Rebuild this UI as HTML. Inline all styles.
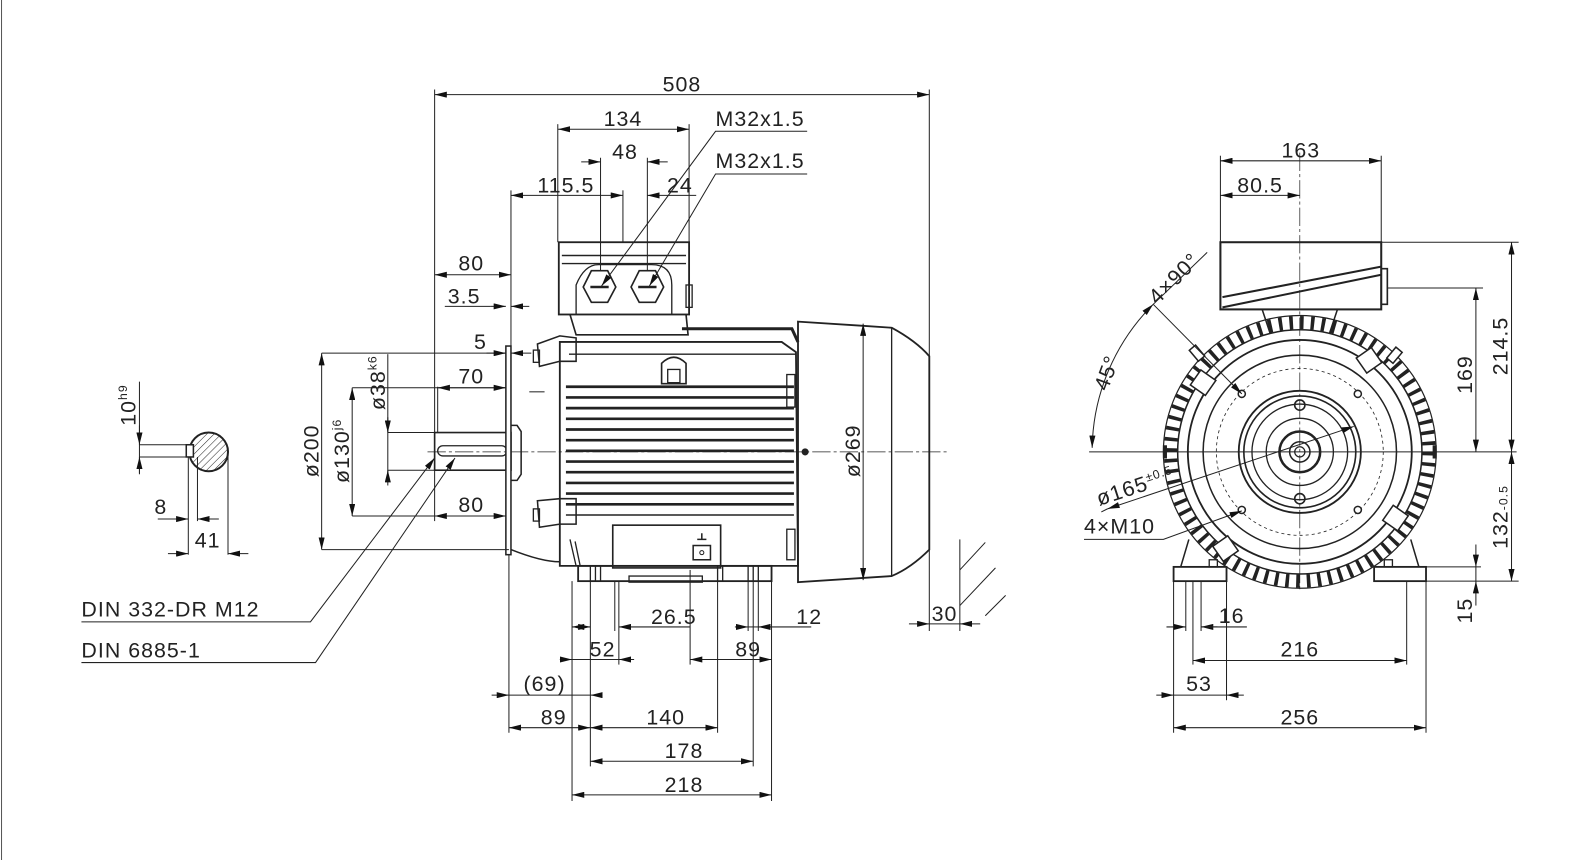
<!DOCTYPE html>
<html><head><meta charset="utf-8">
<style>
html,body{margin:0;padding:0;background:#fff;}
svg{display:block;}
text{font-family:"Liberation Sans",sans-serif;font-size:21px;fill:#222;letter-spacing:1px;}
.m{text-anchor:middle;}
</style></head>
<body>
<svg width="1596" height="860" viewBox="0 0 1568 845" preserveAspectRatio="none" xmlns="http://www.w3.org/2000/svg">
<defs>
<marker id="a" viewBox="0 0 12 6" refX="12" refY="3" markerWidth="12" markerHeight="6" orient="auto-start-reverse" markerUnits="userSpaceOnUse">
<path d="M0,0 L12,3 L0,6z" fill="#111"/></marker>
<pattern id="h" width="5" height="5" patternUnits="userSpaceOnUse" patternTransform="rotate(45)">
<line x1="0" y1="0" x2="0" y2="5" stroke="#222" stroke-width="1"/></pattern>
</defs>
<rect width="1568" height="845" fill="#fff"/>
<line x1="1.5" y1="0" x2="1.5" y2="845" stroke="#555" stroke-width="1"/>

<g stroke="#222" stroke-width="1" fill="none">
<!-- SECTION -->
<circle cx="205" cy="444" r="19" fill="url(#h)" stroke-width="2"/>
<rect x="183" y="437" width="7" height="12" fill="#fff" stroke-width="1.5"/>
<line x1="137" y1="375" x2="137" y2="465"/>
<line x1="137" y1="418" x2="137" y2="437" marker-end="url(#a)"/>
<line x1="137" y1="466" x2="137" y2="449" marker-end="url(#a)"/>
<line x1="137" y1="437" x2="190" y2="437"/>
<line x1="137" y1="449" x2="190" y2="449"/>
<line x1="185" y1="449" x2="185" y2="545"/>
<line x1="194" y1="449" x2="194" y2="512"/>
<line x1="224" y1="444" x2="224" y2="545"/>
<line x1="155" y1="510" x2="185" y2="510" marker-end="url(#a)"/>
<line x1="215" y1="510" x2="194" y2="510" marker-end="url(#a)"/>
<line x1="165" y1="544" x2="185" y2="544" marker-end="url(#a)"/>
<line x1="244" y1="544" x2="224" y2="544" marker-end="url(#a)"/>

<!-- SIDE VIEW -->
<line x1="420" y1="444" x2="930" y2="444" stroke-dasharray="18,3,3,3" stroke-width="0.7"/>
<rect x="427" y="425" width="75" height="37" stroke-width="1.6"/>
<rect x="430" y="438" width="68" height="10" rx="5" stroke-width="1.3"/>
<rect x="497" y="340" width="5" height="205" fill="#fff" stroke-width="1.5"/>
<path d="M502 418 l6 0 l4 6 v42 l-4 6 h-6" stroke-width="1.5"/>
<path d="M502 540 q30 12 48 12" stroke-width="1.5"/>
<path d="M528 338 L550 330 L566 332 L566 355 L550 355 L530 360 Z" stroke-width="1.5"/>
<rect x="524" y="344" width="6" height="12" stroke-width="1.3"/>
<path d="M528 492 L550 490 L566 490 L566 515 L550 515 L530 518 Z" stroke-width="1.5"/>
<rect x="524" y="500" width="6" height="12" stroke-width="1.3"/>
<path d="M550 336 L768 336 L782 346 L784 556 L550 556 Z" stroke-width="1.8"/>
<line x1="559" y1="348" x2="782" y2="348" stroke-width="1.3"/>
<path d="M670 323 L778 323 L784 336" stroke-width="3"/>
<g stroke-width="2.6">
<line x1="556" y1="380" x2="780" y2="380"/><line x1="556" y1="390.5" x2="780" y2="390.5"/>
<line x1="556" y1="401" x2="780" y2="401"/><line x1="556" y1="411.5" x2="780" y2="411.5"/>
<line x1="556" y1="422" x2="780" y2="422"/><line x1="556" y1="432.5" x2="780" y2="432.5"/>
<line x1="556" y1="443" x2="780" y2="443"/><line x1="556" y1="453.5" x2="780" y2="453.5"/>
<line x1="556" y1="464" x2="780" y2="464"/><line x1="556" y1="474.5" x2="780" y2="474.5"/>
<line x1="556" y1="485" x2="780" y2="485"/><line x1="556" y1="495.5" x2="780" y2="495.5"/>
</g>
<line x1="556" y1="506" x2="780" y2="506" stroke-width="1.5"/>
<path d="M650 377 V357 q12 -12 24 0 V377 Z" stroke-width="1.6"/>
<rect x="656" y="363" width="12" height="13" stroke-width="1.3"/>
<rect x="773" y="368" width="8" height="32" stroke-width="1.3"/>
<rect x="773" y="520" width="8" height="30" stroke-width="1.3"/>
<rect x="602" y="516" width="106" height="42" stroke-width="1.6"/>
<rect x="681" y="536" width="17" height="14" stroke-width="1.5"/>
<circle cx="689.5" cy="543" r="2"/>
<path d="M685 530 h9 M689.5 524 v6" stroke-width="1.5"/>
<path d="M560 530 L566 556 M565 532 L570 556" stroke-width="1.3"/>
<rect x="568" y="556" width="190" height="15" stroke-width="1.8"/>
<rect x="618" y="566" width="72" height="6" stroke-width="1.3"/>
<g stroke-width="1.3"><line x1="580" y1="556" x2="580" y2="571"/><line x1="585" y1="556" x2="585" y2="571"/><line x1="590" y1="556" x2="590" y2="571"/>
<line x1="705" y1="556" x2="705" y2="571"/><line x1="710" y1="556" x2="710" y2="571"/><line x1="735" y1="556" x2="735" y2="571"/><line x1="740" y1="556" x2="740" y2="571"/><line x1="745" y1="556" x2="745" y2="571"/></g>
<rect x="549" y="238" width="128" height="71" stroke-width="1.8"/>
<line x1="552" y1="251" x2="674" y2="251" stroke-width="1.5"/>
<line x1="552" y1="259" x2="674" y2="259" stroke-width="1.3"/>
<path d="M560 309 L566 329 L676 329 L674 309" stroke-width="1.6"/>
<path d="M566 309 V280 q8 -20 22 -20 h52 q20 0 20 20 V309" stroke-width="1.3"/>
<rect x="674" y="280" width="6" height="22" stroke-width="1.3"/>
<polygon points="581,266 597,266 605,282 597,297 581,297 573,282" stroke-width="1.6"/>
<polygon points="628,266 644,266 652,282 644,297 628,297 620,282" stroke-width="1.6"/>
<line x1="580" y1="282" x2="598" y2="282" stroke-width="2.5"/>
<line x1="627" y1="282" x2="645" y2="282" stroke-width="2.5"/>
<path d="M784 316 L846 320 L876 322 Q900 335 913 350 L913 540 Q895 558 876 566 L846 568 L784 572 Z" stroke-width="1.8"/>
<line x1="876" y1="322" x2="876" y2="566" stroke-width="1.3"/>
<circle cx="791" cy="444" r="3" fill="#222"/>

<!-- SIDE VIEW DIMENSIONS -->
<line x1="427" y1="88" x2="427" y2="425"/>
<line x1="913" y1="88" x2="913" y2="620"/>
<line x1="427" y1="93" x2="913" y2="93" marker-start="url(#a)" marker-end="url(#a)"/>
<line x1="548" y1="122" x2="548" y2="238"/>
<line x1="677" y1="122" x2="677" y2="238"/>
<line x1="548" y1="127" x2="677" y2="127" marker-start="url(#a)" marker-end="url(#a)"/>
<line x1="590" y1="155" x2="590" y2="266"/>
<line x1="636" y1="155" x2="636" y2="266"/>
<line x1="571" y1="159" x2="590" y2="159" marker-end="url(#a)"/>
<line x1="656" y1="159" x2="636" y2="159" marker-end="url(#a)"/>
<line x1="502" y1="187" x2="502" y2="340"/>
<line x1="612" y1="187" x2="612" y2="238"/>
<line x1="502" y1="192" x2="612" y2="192" marker-start="url(#a)" marker-end="url(#a)"/>
<line x1="684" y1="192" x2="636" y2="192" marker-end="url(#a)"/>
<path d="M793 129 H703 L591 281" marker-end="url(#a)"/>
<path d="M793 171 H703 L638 281" marker-end="url(#a)"/>
<line x1="427" y1="270" x2="502" y2="270" marker-start="url(#a)" marker-end="url(#a)"/>
<line x1="482" y1="301" x2="497" y2="301" marker-end="url(#a)"/>
<line x1="520" y1="301" x2="502" y2="301" marker-end="url(#a)"/>
<line x1="437" y1="301" x2="482" y2="301"/>
<line x1="316" y1="347" x2="497" y2="347"/>
<line x1="478" y1="347" x2="497" y2="347" marker-end="url(#a)"/>
<line x1="522" y1="347" x2="502" y2="347" marker-end="url(#a)"/>
<line x1="346" y1="381" x2="497" y2="381"/>
<line x1="430" y1="380" x2="430" y2="425"/>
<line x1="430" y1="381" x2="497" y2="381" marker-start="url(#a)" marker-end="url(#a)"/>
<line x1="346" y1="507" x2="497" y2="507"/>
<line x1="427" y1="462" x2="427" y2="512"/>
<line x1="427" y1="507" x2="497" y2="507" marker-start="url(#a)" marker-end="url(#a)"/>
<line x1="316" y1="540" x2="500" y2="540"/>
<line x1="316" y1="347" x2="316" y2="540" marker-start="url(#a)" marker-end="url(#a)"/>
<line x1="346" y1="381" x2="346" y2="507" marker-start="url(#a)" marker-end="url(#a)"/>
<line x1="381" y1="348" x2="381" y2="470"/>
<line x1="381" y1="410" x2="381" y2="425" marker-end="url(#a)"/>
<line x1="381" y1="477" x2="381" y2="462" marker-end="url(#a)"/>
<line x1="381" y1="425" x2="427" y2="425"/>
<line x1="381" y1="462" x2="427" y2="462"/>
<line x1="520" y1="385" x2="535" y2="385"/>
<line x1="848" y1="318" x2="848" y2="570" marker-start="url(#a)" marker-end="url(#a)"/>
<path d="M80 611 H305 L427 450" marker-end="url(#a)"/>
<path d="M80 651 H310 L447 450" marker-end="url(#a)"/>
<line x1="500" y1="545" x2="500" y2="720"/>
<line x1="562" y1="571" x2="562" y2="787"/>
<line x1="580" y1="571" x2="580" y2="753"/>
<line x1="604" y1="571" x2="604" y2="620"/>
<line x1="608" y1="571" x2="608" y2="653"/>
<line x1="678" y1="560" x2="678" y2="653"/>
<line x1="705" y1="571" x2="705" y2="720"/>
<line x1="735" y1="571" x2="735" y2="620"/>
<line x1="740" y1="571" x2="740" y2="753"/>
<line x1="745" y1="571" x2="745" y2="620"/>
<line x1="758" y1="571" x2="758" y2="787"/>
<line x1="562" y1="616" x2="580" y2="616" marker-start="url(#a)" marker-end="url(#a)"/>
<line x1="678" y1="616" x2="608" y2="616" marker-end="url(#a)"/>
<line x1="735" y1="616" x2="745" y2="616"/>
<line x1="722" y1="616" x2="735" y2="616" marker-end="url(#a)"/>
<line x1="797" y1="616" x2="745" y2="616" marker-end="url(#a)"/>
<line x1="550" y1="648" x2="562" y2="648" marker-end="url(#a)"/>
<line x1="623" y1="648" x2="608" y2="648" marker-end="url(#a)"/>
<line x1="562" y1="648" x2="608" y2="648"/>
<line x1="678" y1="648" x2="758" y2="648" marker-start="url(#a)" marker-end="url(#a)"/>
<line x1="483" y1="683" x2="500" y2="683" marker-end="url(#a)"/>
<line x1="590" y1="683" x2="580" y2="683" marker-end="url(#a)"/>
<line x1="500" y1="683" x2="580" y2="683"/>
<line x1="500" y1="715" x2="580" y2="715" marker-start="url(#a)" marker-end="url(#a)"/>
<line x1="580" y1="715" x2="705" y2="715" marker-start="url(#a)" marker-end="url(#a)"/>
<line x1="580" y1="748" x2="740" y2="748" marker-start="url(#a)" marker-end="url(#a)"/>
<line x1="562" y1="781" x2="758" y2="781" marker-start="url(#a)" marker-end="url(#a)"/>
<line x1="943" y1="530" x2="943" y2="620"/>
<line x1="893" y1="613" x2="913" y2="613" marker-end="url(#a)"/>
<line x1="963" y1="613" x2="943" y2="613" marker-end="url(#a)"/>
<line x1="913" y1="613" x2="943" y2="613"/>
<line x1="943" y1="560" x2="968" y2="533"/>
<line x1="943" y1="595" x2="978" y2="558"/>
<line x1="968" y1="605" x2="988" y2="585"/>

<!-- FRONT VIEW -->
<line x1="1277" y1="150" x2="1277" y2="580" stroke-dasharray="18,3,3,3" stroke-width="0.7"/>
<line x1="1070" y1="444" x2="1490" y2="444"/>
<rect x="1199" y="238" width="158" height="66" stroke-width="2"/>
<path d="M1201 292 L1357 262 M1201 302 L1357 270" stroke-width="2"/>
<rect x="1357" y="264" width="6" height="35" stroke-width="1.6"/>
<path d="M1240 304 L1248 328 M1314 304 L1306 328" stroke-width="1.5"/>
<circle cx="1277" cy="444" r="127" stroke="#222" stroke-width="13" stroke-dasharray="3.5,7"/>
<circle cx="1277" cy="444" r="134" stroke-width="1.2"/>
<circle cx="1277" cy="444" r="120" stroke-width="1.5"/>
<circle cx="1277" cy="444" r="110" stroke-width="1.8"/>
<circle cx="1277" cy="444" r="95" stroke-width="1.5"/>
<circle cx="1277" cy="444" r="82" stroke-width="0.8" stroke-dasharray="3,3"/>
<circle cx="1277" cy="444" r="60" stroke-width="1.8"/>
<circle cx="1277" cy="444" r="55" stroke-width="1.6"/>
<circle cx="1277" cy="444" r="47" stroke-width="1.3"/>
<circle cx="1277" cy="444" r="33" stroke-width="1.3"/>
<circle cx="1277" cy="444" r="20" stroke-width="2.5"/>
<circle cx="1277" cy="444" r="10" stroke-width="1.5"/>
<circle cx="1277" cy="444" r="5" stroke-width="1.2"/>
<circle cx="1277" cy="398" r="5" stroke-width="1.6"/>
<circle cx="1277" cy="490" r="5" stroke-width="1.6"/>
<g fill="#fff" stroke-width="1.5">
<circle cx="1220" cy="387" r="3.5"/><circle cx="1334" cy="387" r="3.5"/>
<circle cx="1220" cy="501" r="3.5"/><circle cx="1334" cy="501" r="3.5"/>
<rect x="1173" y="367" width="18" height="18" transform="rotate(35 1182 376)"/>
<rect x="1336" y="345" width="18" height="18" transform="rotate(-35 1345 354)"/>
<rect x="1362" y="500" width="18" height="18" transform="rotate(35 1371 509)"/>
<rect x="1195" y="530" width="18" height="18" transform="rotate(-35 1204 539)"/>
<rect x="1172" y="340" width="8" height="14" transform="rotate(-40 1176 347)"/>
<rect x="1366" y="342" width="8" height="14" transform="rotate(40 1370 349)"/>
</g>
<path d="M1168 530 L1160 557 M1386 530 L1394 557" stroke-width="1.5"/>
<rect x="1153" y="557" width="52" height="14" fill="#fff" stroke-width="1.8"/>
<rect x="1350" y="557" width="51" height="14" fill="#fff" stroke-width="1.8"/>
<rect x="1188" y="550" width="8" height="7" stroke-width="1.3"/>
<rect x="1360" y="550" width="8" height="7" stroke-width="1.3"/>
<rect x="1143" y="438" width="3" height="12" fill="#222"/>
<rect x="1408" y="438" width="3" height="12" fill="#222"/>
<line x1="1199" y1="153" x2="1199" y2="238"/>
<line x1="1357" y1="153" x2="1357" y2="238"/>
<line x1="1199" y1="158" x2="1357" y2="158" marker-start="url(#a)" marker-end="url(#a)"/>
<line x1="1199" y1="192" x2="1277" y2="192" marker-start="url(#a)" marker-end="url(#a)"/>
<line x1="1357" y1="238" x2="1492" y2="238"/>
<line x1="1363" y1="283" x2="1457" y2="283"/>
<line x1="1450" y1="283" x2="1450" y2="444" marker-start="url(#a)" marker-end="url(#a)"/>
<line x1="1485" y1="238" x2="1485" y2="444" marker-start="url(#a)" marker-end="url(#a)"/>
<line x1="1485" y1="444" x2="1485" y2="571" marker-start="url(#a)" marker-end="url(#a)"/>
<line x1="1401" y1="571" x2="1492" y2="571"/>
<line x1="1401" y1="557" x2="1455" y2="557"/>
<line x1="1450" y1="535" x2="1450" y2="557" marker-end="url(#a)"/>
<line x1="1450" y1="595" x2="1450" y2="571" marker-end="url(#a)"/>
<line x1="1450" y1="557" x2="1450" y2="571"/>
<line x1="1153" y1="571" x2="1153" y2="720"/>
<line x1="1165" y1="571" x2="1165" y2="620"/>
<line x1="1172" y1="571" x2="1172" y2="653"/>
<line x1="1180" y1="571" x2="1180" y2="620"/>
<line x1="1205" y1="571" x2="1205" y2="688"/>
<line x1="1382" y1="571" x2="1382" y2="653"/>
<line x1="1401" y1="571" x2="1401" y2="720"/>
<line x1="1146" y1="616" x2="1165" y2="616" marker-end="url(#a)"/>
<line x1="1196" y1="616" x2="1180" y2="616" marker-end="url(#a)"/>
<line x1="1180" y1="616" x2="1225" y2="616"/>
<line x1="1172" y1="649" x2="1382" y2="649" marker-start="url(#a)" marker-end="url(#a)"/>
<line x1="1136" y1="683" x2="1153" y2="683" marker-end="url(#a)"/>
<line x1="1222" y1="683" x2="1205" y2="683" marker-end="url(#a)"/>
<line x1="1153" y1="683" x2="1205" y2="683"/>
<line x1="1153" y1="715" x2="1401" y2="715" marker-start="url(#a)" marker-end="url(#a)"/>
<path d="M1073 440 A204 204 0 0 1 1133 299" marker-start="url(#a)" marker-end="url(#a)"/>
<path d="M1133 299 L1220 387" marker-end="url(#a)"/>
<line x1="1133" y1="299" x2="1186" y2="248"/>
<path d="M1088 500 L1330 419" marker-start="url(#a)" marker-end="url(#a)"/>
<path d="M1082 503 L1088 500"/>
<path d="M1065 530 H1143 L1220 502" marker-end="url(#a)"/>
</g>

<!-- TEXT -->
<text class="m" x="670" y="90">508</text>
<text class="m" x="612" y="124">134</text>
<text class="m" x="614" y="156">48</text>
<text class="m" x="556" y="189">115.5</text>
<text class="m" x="668" y="189">24</text>
<text x="703" y="124">M32x1.5</text>
<text x="703" y="165">M32x1.5</text>
<text class="m" x="463" y="266">80</text>
<text class="m" x="456" y="298">3.5</text>
<text class="m" x="472" y="343">5</text>
<text class="m" x="463" y="377">70</text>
<text class="m" x="463" y="503">80</text>
<text x="80" y="606">DIN 332-DR M12</text>
<text x="80" y="646">DIN 6885-1</text>
<text class="m" x="662" y="613">26.5</text>
<text class="m" x="795" y="613">12</text>
<text class="m" x="592" y="645">52</text>
<text class="m" x="735" y="645">89</text>
<text class="m" x="535" y="679">(69)</text>
<text class="m" x="544" y="712">89</text>
<text class="m" x="654" y="712">140</text>
<text class="m" x="672" y="745">178</text>
<text class="m" x="672" y="778">218</text>
<text class="m" x="928" y="610">30</text>
<text class="m" x="204" y="538">41</text>
<text class="m" x="158" y="505">8</text>
<text class="m" transform="translate(133 398) rotate(-90)">10<tspan font-size="12" dy="-8">h9</tspan></text>
<text class="m" transform="translate(313 443) rotate(-90)">ø200</text>
<text class="m" transform="translate(343 443) rotate(-90)">ø130<tspan font-size="12" dy="-8">j6</tspan></text>
<text class="m" transform="translate(378 376) rotate(-90)">ø38<tspan font-size="12" dy="-8">k6</tspan></text>
<text class="m" transform="translate(845 443) rotate(-90)">ø269</text>
<text class="m" x="1278" y="155">163</text>
<text class="m" x="1238" y="189">80.5</text>
<text class="m" transform="translate(1446 368) rotate(-90)">169</text>
<text class="m" transform="translate(1481 340) rotate(-90)">214.5</text>
<text class="m" transform="translate(1481 508) rotate(-90)">132<tspan font-size="12">-0.5</tspan></text>
<text class="m" transform="translate(1446 600) rotate(-90)">15</text>
<text class="m" x="1210" y="612">16</text>
<text class="m" x="1277" y="645">216</text>
<text class="m" x="1178" y="679">53</text>
<text class="m" x="1277" y="712">256</text>
<text transform="translate(1088 385) rotate(-70)">45°</text>
<text transform="translate(1137 300) rotate(-45)">4×90°</text>
<text transform="translate(1080 497) rotate(-18)">ø165<tspan font-size="12" dy="-8">±0.5</tspan></text>
<text x="1065" y="524">4×M10</text>
</svg>
</body></html>
